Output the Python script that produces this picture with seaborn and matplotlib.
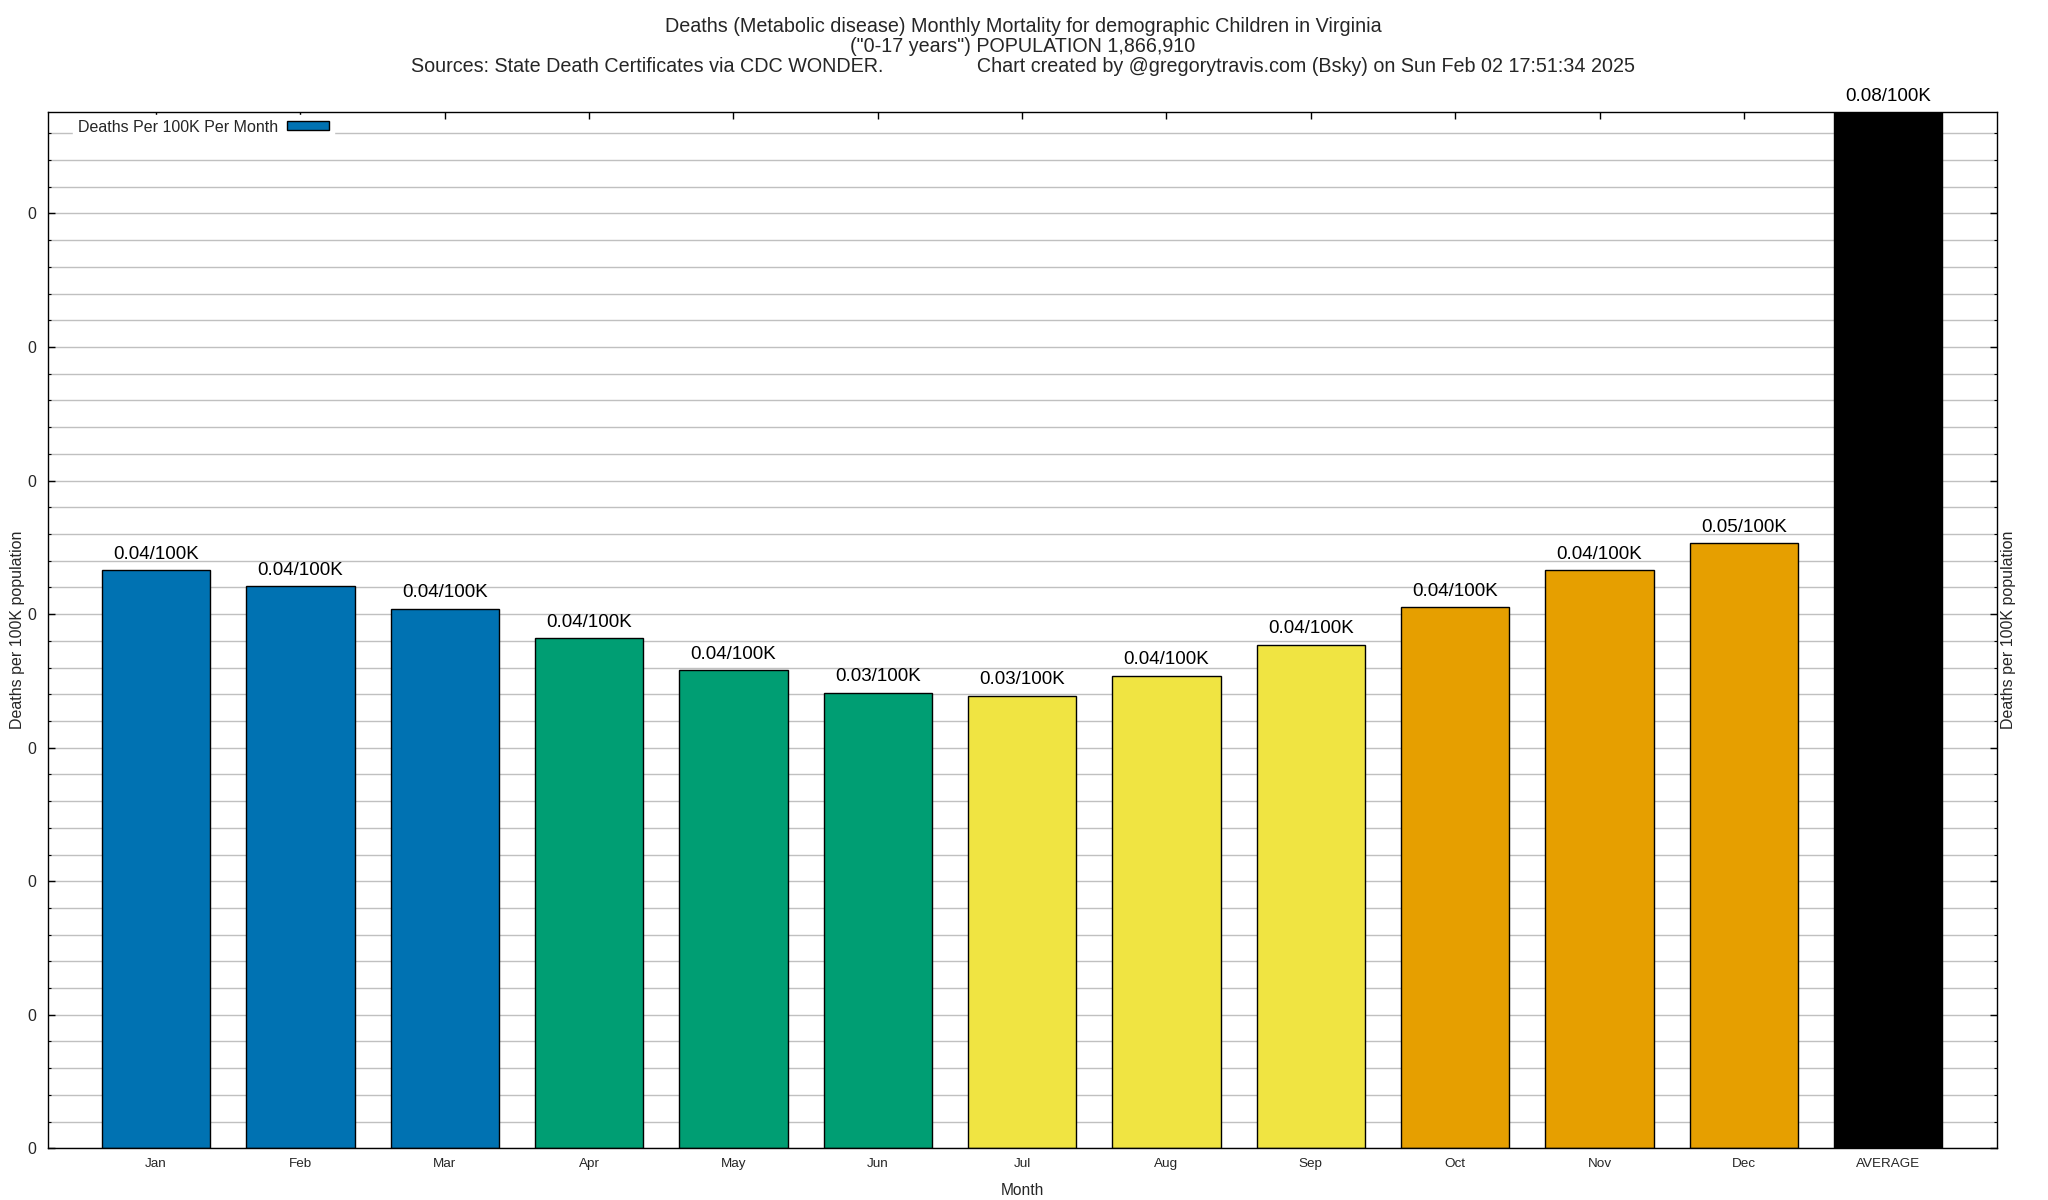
import matplotlib
matplotlib.use("Agg")
import matplotlib.pyplot as plt
from matplotlib.patches import Patch
from matplotlib.ticker import MultipleLocator, FormatStrFormatter
import seaborn as sns
import pandas as pd

# dati
mesi = ["Jan", "Feb", "Mar", "Apr", "May", "Jun", "Jul", "Aug", "Sep", "Oct", "Nov", "Dec", "AVERAGE"]
tassi = [0.0433, 0.0421, 0.0404, 0.0382, 0.0358, 0.0341, 0.0339, 0.0354, 0.0377, 0.0405, 0.0433, 0.0453, 0.0776]
colori = ["#0072B2", "#0072B2", "#0072B2",
          "#009E73", "#009E73", "#009E73",
          "#F0E442", "#F0E442", "#F0E442",
          "#E69F00", "#E69F00", "#E69F00",
          "#000000"]

titolo_1 = "Deaths (Metabolic disease) Monthly Mortality for demographic Children in Virginia"
titolo_2 = "(\"0-17 years\") POPULATION 1,866,910"
titolo_3 = "Sources: State Death Certificates via CDC WONDER." + " " * 17 + \
           "Chart created by @gregorytravis.com (Bsky) on Sun Feb 02 17:51:34 2025"
etichetta_y = "Deaths per 100K population"
etichetta_legenda = "Deaths Per 100K Per Month"

sns.set_theme(style="ticks")
plt.rcParams["font.family"] = ["Liberation Sans", "DejaVu Sans"]

df = pd.DataFrame({"mese": mesi, "tasso": tassi})

W, H = 2048, 1200
fig = plt.figure(figsize=(W / 100, H / 100), dpi=100)
ax = fig.add_axes([47.8 / W, 1 - 1148.3 / H, (1996.5 - 47.8) / W, (1148.3 - 112) / H])

sns.barplot(data=df, x="mese", y="tasso", hue="mese", palette=dict(zip(mesi, colori)),
            legend=False, width=0.75, saturation=1, edgecolor="black", linewidth=1, ax=ax)

ax.set_xlim(-0.75, len(mesi) - 0.25)
ax.set_ylim(0, max(tassi))

# etichette sopra le barre
for i, v in enumerate(tassi):
    ax.annotate(f"{v:.2f}/100K", (i, v), xytext=(0, 11.5), textcoords="offset points",
                ha="center", va="center", fontsize=13.5, color="black", annotation_clip=False)

ax.yaxis.set_major_locator(MultipleLocator(0.01))
ax.yaxis.set_minor_locator(MultipleLocator(0.002))
ax.yaxis.set_major_formatter(FormatStrFormatter("%.0f"))
ax.set_axisbelow(True)
ax.yaxis.grid(True, which="both", color="#c0c0c0", linewidth=1)
ax.xaxis.grid(False)

ax.tick_params(axis="both", which="both", direction="in", top=True, right=True, color="black")
ax.tick_params(axis="y", which="major", length=5, width=1, labelsize=11.5, pad=8)
ax.tick_params(axis="y", which="minor", length=2.5, width=0.8)
ax.tick_params(axis="x", which="major", length=5, width=1, labelsize=9.7, pad=7)
for s in ax.spines.values():
    s.set_color("black")
    s.set_linewidth(1.0)

ax.set_xlabel("Month", fontsize=11.2, labelpad=9)
ax.set_ylabel("")

fig.text(18 / W, 1 - 630 / H, etichetta_y, rotation=90, ha="center", va="center", fontsize=11.5)
fig.text(2009 / W, 1 - 630 / H, etichetta_y, rotation=90, ha="center", va="center", fontsize=11.5)

cx = 1023 / W
fig.text(cx, 1 - 27 / H, titolo_1, ha="center", va="center", fontsize=14.2)
fig.text(cx, 1 - 47 / H, titolo_2, ha="center", va="center", fontsize=14.2)
fig.text(cx, 1 - 67 / H, titolo_3, ha="center", va="center", fontsize=14.2)

gestore = Patch(facecolor=colori[0], edgecolor="black", linewidth=1)
leg = ax.legend([gestore], [etichetta_legenda], loc="center left",
                bbox_to_anchor=((73 - 47.8) / (1996.5 - 47.8), (1148.3 - 127) / (1148.3 - 112)),
                borderaxespad=0, borderpad=0.3, markerfirst=False, fontsize=11.5,
                handlelength=2.65, handleheight=0.5, handletextpad=0.55,
                frameon=True, fancybox=False, framealpha=1, edgecolor="white", facecolor="white")

fig.savefig("out.png", dpi=100)
